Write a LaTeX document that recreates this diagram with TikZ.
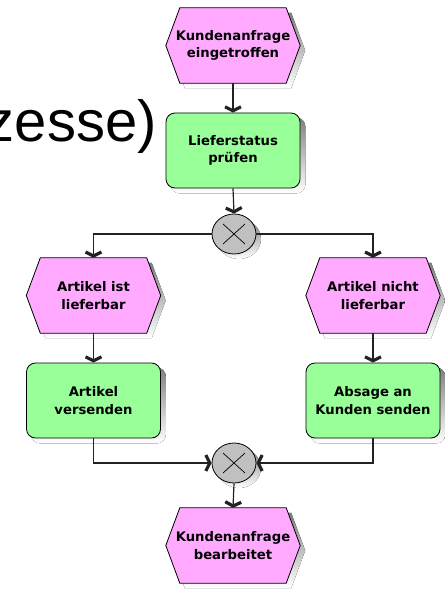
\documentclass[tikz,border=0pt]{standalone}
\usepackage{fontspec}
\setmainfont{Liberation Sans}
\newfontfamily\labelfont{DejaVu Sans}
\usetikzlibrary{arrows.meta,shapes.geometric,backgrounds}

\definecolor{evfill}{HTML}{FFAAFF}
\definecolor{fnfill}{HTML}{99FF99}
\definecolor{gwfill}{HTML}{C0C0C0}
\definecolor{shade}{HTML}{A4A4A4}
\definecolor{wire}{HTML}{222222}

\begin{document}
\begin{tikzpicture}[x=1pt,y=-1pt,
  lbl/.style={font=\labelfont\bfseries\fontsize{13.2}{17.5}\selectfont, align=center, text=black},
  event/.style={lbl, rectangle, minimum width=134pt, minimum height=75pt, inner sep=0pt},
  func/.style={lbl, rectangle, rounded corners=9pt, draw=black, line width=0.8pt,
    fill=fnfill, minimum width=134pt, minimum height=75pt, inner sep=0pt},
  xor/.style={ellipse, draw=black, line width=0.8pt, fill=gwfill,
    minimum width=44pt, minimum height=40pt, inner sep=0pt,
    path picture={
      \draw[line width=0.7pt]
        ([shift={(-11pt,-10pt)}]path picture bounding box.center) --
        ([shift={(11pt,10pt)}]path picture bounding box.center)
        ([shift={(-11pt,10pt)}]path picture bounding box.center) --
        ([shift={(11pt,-10pt)}]path picture bounding box.center);}},
  flow/.style={draw=wire, line width=1.2pt,
    -{Straight Barb[length=4pt,width=16pt,line width=3.2pt]}},
  bigtext/.style={anchor=base east, inner sep=0pt,
    font=\fontsize{58}{58}\selectfont}
]
\useasboundingbox (0,0) rectangle (444,591);
\clip (0,0) rectangle (444,591);

% slide heading fragments behind the diagram
\node[bigtext] (head) at (157,141) {zesse)};
\node[bigtext] (tail) at (4,567) {)};

% events, functions and connectors
\node[event] (e1) at (233,45.5) {Kundenanfrage\\eingetroffen};
\node[func]  (f1) at (233,150.5) {Lieferstatus\\prüfen};
\node[xor]   (g1) at (234,234) {};
\node[event] (e2) at (93.5,295.5) {Artikel ist\\lieferbar};
\node[event] (e3) at (373,295.5) {Artikel nicht\\lieferbar};
\node[func]  (f2) at (93.5,400.5) {Artikel\\versenden};
\node[func]  (f3) at (373,400.5) {Absage an\\Kunden senden};
\node[xor]   (g2) at (234,463) {};
\node[event] (e4) at (233,545.5) {Kundenanfrage\\bearbeitet};

\draw[flow] (e1.south) -- (f1.north);
\draw[flow] (f1.south) -- (g1.north);
\draw[flow] (g1.west) -| (e2.north);
\draw[flow] (g1.east) -| (e3.north);
\draw[flow] (e2.south) -- (f2.north);
\draw[flow] (e3.south) -- (f3.north);
\draw[flow] (f2.south) |- (g2.west);
\draw[flow] (f3.south) |- (g2.east);
\draw[flow] (g2.south) -- (e4.north);

\begin{scope}[on background layer]
  % drop shadows of functions and gateways
  \foreach \n in {f1,f2,f3}{
    \fill[shade, rounded corners=9pt, transform canvas={shift={(5pt,-5pt)}}]
      (\n.north west) rectangle (\n.south east);
  }
  \foreach \n in {g1,g2}{
    \fill[shade, transform canvas={shift={(5pt,-5pt)}}]
      (\n.center) ellipse [x radius=22pt, y radius=20pt];
  }
  % hexagonal events with their shadows
  \foreach \n in {e1,e2,e3,e4}{
    \fill[shade, transform canvas={shift={(5pt,-5pt)}}]
      ([xshift=14pt]\n.north west) -- ([xshift=-14pt]\n.north east) --
      (\n.east) -- ([xshift=-14pt]\n.south east) --
      ([xshift=14pt]\n.south west) -- (\n.west) -- cycle;
    \filldraw[fill=evfill, draw=black, line width=0.8pt]
      ([xshift=14pt]\n.north west) -- ([xshift=-14pt]\n.north east) --
      (\n.east) -- ([xshift=-14pt]\n.south east) --
      ([xshift=14pt]\n.south west) -- (\n.west) -- cycle;
  }
\end{scope}
\end{tikzpicture}
\end{document}
